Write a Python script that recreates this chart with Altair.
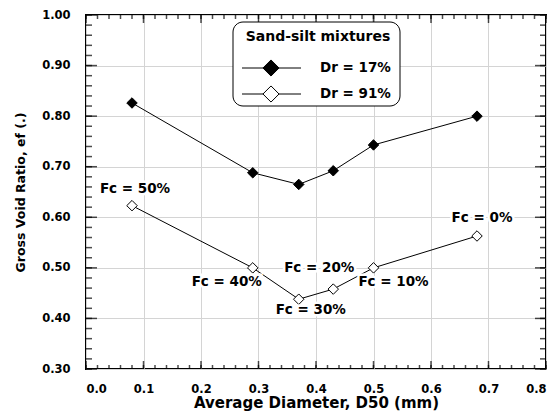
import altair as alt
import pandas as pd
import numpy as np

# ---- data ----
series_names = ["Dr = 17%", "Dr = 91%"]
d50_values = [0.08, 0.29, 0.37, 0.43, 0.50, 0.68]
e_dr17 = [0.826, 0.688, 0.665, 0.692, 0.743, 0.800]
e_dr91 = [0.623, 0.500, 0.438, 0.458, 0.500, 0.563]
fc_labels = ["Fc = 50%", "Fc = 40%", "Fc = 30%", "Fc = 20%", "Fc = 10%", "Fc = 0%"]
x_ticks = [0.0, 0.1, 0.2, 0.3, 0.4, 0.5, 0.6, 0.7, 0.8]
y_ticks = [0.30, 0.40, 0.50, 0.60, 0.70, 0.80, 0.90, 1.00]
legend_title = "Sand-silt mixtures"

# ---- styling ----
W, H = 460, 354
FONT = "DejaVu Sans"
label_offsets = [(3, -17), (-26, 14), (12, 11), (-14, -21), (20, 14), (5, -18)]

df = pd.DataFrame({
    "d50": d50_values * 2,
    "e": e_dr17 + e_dr91,
    "series": [series_names[0]] * 6 + [series_names[1]] * 6,
})
df91 = pd.DataFrame({"d50": d50_values, "e": e_dr91, "label": fc_labels})

xscale = alt.Scale(domain=[0, 0.8], nice=False, zero=False)
yscale = alt.Scale(domain=[0.3, 1.0], nice=False, zero=False)

xaxis = alt.Axis(values=x_ticks, format=".1f", ticks=False, domain=False,
                 grid=True, gridColor="#d4d4d4", gridWidth=1,
                 labelFont=FONT, labelFontWeight="bold", labelFontSize=11.5,
                 labelPadding=14, labelColor="black",
                 title="Average Diameter, D50 (mm)", titleFont=FONT,
                 titleFontWeight="bold", titleFontSize=15, titleColor="black",
                 titlePadding=1, labelOverlap=False)
yaxis = alt.Axis(values=y_ticks, format=".2f", ticks=False, domain=False,
                 grid=True, gridColor="#d4d4d4", gridWidth=1,
                 labelFont=FONT, labelFontWeight="bold", labelFontSize=11.5,
                 labelPadding=16, labelColor="black",
                 title="Gross Void Ratio, ef (.)", titleFont=FONT,
                 titleFontWeight="bold", titleFontSize=12.5, titleColor="black",
                 titlePadding=14, labelOverlap=False)

X = alt.X("d50:Q", scale=xscale, axis=xaxis)
Y = alt.Y("e:Q", scale=yscale, axis=yaxis)

base_axes = alt.Chart(df).mark_point(opacity=0).encode(x=X, y=Y)

lines = alt.Chart(df).mark_line(color="black", strokeWidth=1).encode(
    x=alt.X("d50:Q", scale=xscale), y=alt.Y("e:Q", scale=yscale), detail="series:N")

points = alt.Chart(df).mark_point(shape="diamond", filled=True, size=110,
                                  stroke="black", strokeWidth=1, opacity=1).encode(
    x=alt.X("d50:Q", scale=xscale), y=alt.Y("e:Q", scale=yscale),
    fill=alt.Fill("series:N", scale=alt.Scale(domain=series_names, range=["black", "white"]),
                  legend=None))

# annotation labels (white halo + black text)
label_layers = []
for i, (dx, dy) in enumerate(label_offsets):
    sub = df91.iloc[[i]]
    for halo in (True, False):
        kw = dict(font=FONT, fontWeight="bold", fontSize=13.5, dx=dx, dy=dy,
                  align="center", baseline="middle")
        if halo:
            kw.update(fill="white", stroke="white", strokeWidth=5)
        else:
            kw.update(color="black")
        label_layers.append(alt.Chart(sub).mark_text(**kw).encode(
            x=alt.X("d50:Q", scale=xscale), y=alt.Y("e:Q", scale=yscale), text="label:N"))

# inner ticks (drawn as tick marks through the chart's scales)
xmaj = pd.DataFrame({"v": x_ticks})
xmin = pd.DataFrame({"v": [float(round(v, 2)) for v in np.arange(0, 0.801, 0.02)]})
ymaj = pd.DataFrame({"v": y_ticks})
ymin = pd.DataFrame({"v": [float(round(v, 2)) for v in np.arange(0.3, 1.001, 0.02)]})


def xt(d, L):
    return [
        alt.Chart(d).mark_tick(color="black", thickness=1.5, size=L, orient="vertical").encode(
            x=alt.X("v:Q", scale=xscale), y=alt.value(H - L / 2)),
        alt.Chart(d).mark_tick(color="black", thickness=1.5, size=L, orient="vertical").encode(
            x=alt.X("v:Q", scale=xscale), y=alt.value(L / 2)),
    ]


def yt(d, L):
    return [
        alt.Chart(d).mark_tick(color="black", thickness=1.5, size=L, orient="horizontal").encode(
            y=alt.Y("v:Q", scale=yscale), x=alt.value(L / 2)),
        alt.Chart(d).mark_tick(color="black", thickness=1.5, size=L, orient="horizontal").encode(
            y=alt.Y("v:Q", scale=yscale), x=alt.value(W - L / 2)),
    ]


tick_layers = xt(xmaj, 8) + xt(xmin, 4) + yt(ymaj, 11) + yt(ymin, 6)

# legend box
leg_df = pd.DataFrame({"series": series_names, "yy": [53, 79]})
leg_box = alt.Chart(pd.DataFrame({"a": [0]})).mark_rect(
    fill="white", stroke="black", strokeWidth=1, cornerRadius=10).encode(
    x=alt.value(147), x2=alt.value(314), y=alt.value(7), y2=alt.value(91))
leg_title = alt.Chart(pd.DataFrame({"t": [legend_title]})).mark_text(
    font=FONT, fontWeight="bold", fontSize=14, align="center", baseline="middle",
    color="black").encode(x=alt.value(232), y=alt.value(22), text="t:N")
leg_lines = alt.Chart(leg_df).mark_rule(color="black", strokeWidth=1).encode(
    x=alt.value(156), x2=alt.value(215), y=alt.Y("yy:Q", scale=None))
leg_pts = alt.Chart(leg_df).mark_point(shape="diamond", filled=True, size=260,
                                       stroke="black", strokeWidth=1, opacity=1).encode(
    x=alt.value(185), y=alt.Y("yy:Q", scale=None),
    fill=alt.Fill("series:N", scale=alt.Scale(domain=series_names, range=["black", "white"]),
                  legend=None))
leg_text = alt.Chart(leg_df).mark_text(font=FONT, fontWeight="bold", fontSize=13.5,
                                       align="left", baseline="middle", color="black").encode(
    x=alt.value(234), y=alt.Y("yy:Q", scale=None), text="series:N")

chart = alt.layer(
    base_axes, lines, points, *label_layers, *tick_layers,
    leg_box, leg_title, leg_lines, leg_pts, leg_text
).properties(
    width=W, height=H,
    autosize=alt.AutoSizeParams(type="none"),
    padding={"left": 78, "top": 7, "right": 2, "bottom": 43},
    background="white",
).configure_view(stroke="black", strokeWidth=2)

chart.save("out.html", embed_options={"renderer": "svg", "actions": False})
